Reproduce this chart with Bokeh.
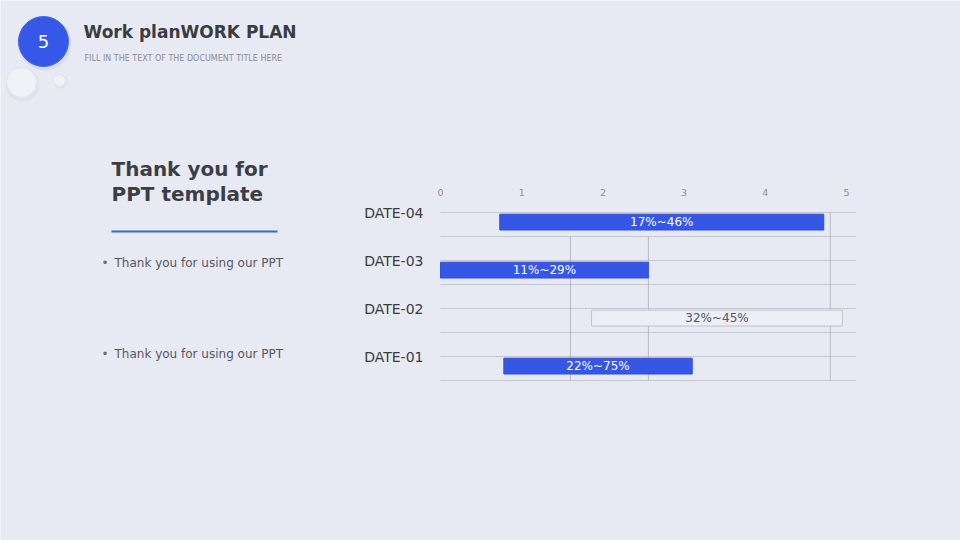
from bokeh.plotting import figure
from bokeh.models import Range1d, ColumnDataSource
from bokeh.core.properties import value
from bokeh.embed import file_html
from bokeh.resources import INLINE

BG = "#e8eaf3"
FONT = "DejaVu Sans"

# ---------------- data ----------------
categories = ["DATE-01", "DATE-02", "DATE-03", "DATE-04"]
bar_start = [0.78, 1.86, 0.00, 0.73]
bar_end = [3.10, 4.95, 2.56, 4.72]
bar_labels = ["22%~75%", "32%~45%", "11%~29%", "17%~46%"]
x_ticks = [0, 1, 2, 3, 4, 5]
x_tick_labels = ["0", "1", "2", "3", "4", "5"]
x_max = 5.12
guide_x = [1.60, 2.56, 4.80]
guide_y0 = [0.5, 0.5, 0.5]
guide_y1 = [3.5, 3.5, 4.0]

page_number = "5"
header_title = "Work planWORK PLAN"
header_sub = "FILL IN THE TEXT OF THE DOCUMENT TITLE HERE"
heading_lines = ["Thank you for", "PPT template"]
bullet_texts = ["Thank you for using our PPT", "Thank you for using our PPT"]

# styles (kept apart from data)
bar_fill = ["#3657e6", "#eceef5", "#3657e6", "#3657e6"]
bar_line = ["#2f4fdc", "#c2c4cc", "#2f4fdc", "#2f4fdc"]
label_color = ["#ffffff", "#55575e", "#ffffff", "#ffffff"]

# ---------------- page figure (pixel coordinates, y downwards) ----------------
W, H = 960, 540
p = figure(width=W, height=H, x_range=Range1d(0, W), y_range=Range1d(H, 0),
           x_axis_type=None, y_axis_type=None, min_border=0,
           output_backend="svg", toolbar_location=None)
p.background_fill_color = BG
p.border_fill_color = BG
p.outline_line_color = None
p.grid.visible = False

# chart scales placed on the page: value 0 at px 440, 81.2 px per unit;
# row 1 at px 356, 48 px per row (y upwards)
X0_PX, X_UNIT = 440.0, 81.2
Y1_PX, Y_UNIT = 356.0, 48.0
p.extra_x_ranges = {"chart": Range1d(-X0_PX / X_UNIT, (W - X0_PX) / X_UNIT)}
p.extra_y_ranges = {"chart": Range1d(1 - (H - Y1_PX) / Y_UNIT, 1 + Y1_PX / Y_UNIT)}
C = dict(x_range_name="chart", y_range_name="chart")

# ---------------- header decorations ----------------
p.circle(x=[22], y=[84], radius=17, fill_color="#d9dce8", fill_alpha=0.6, line_color=None)
p.circle(x=[21], y=[82], radius=15, fill_color="#f1f2f8", line_color="#e2e4ed")
p.circle(x=[60], y=[81], radius=7, fill_color="#d9dce8", fill_alpha=0.6, line_color=None)
p.circle(x=[59], y=[80], radius=6, fill_color="#f1f2f8", line_color="#e2e4ed")
p.circle(x=[44], y=[43], radius=27, fill_color="#d3d7e8", fill_alpha=0.7, line_color=None)
p.circle(x=[43], y=[41], radius=25, fill_color="#3558e8", line_color="#4465ee")
p.text(x=[43], y=[41], text=[page_number], text_font=value(FONT), text_font_size="18px",
       text_color="#ffffff", text_align="center", text_baseline="middle")

p.text(x=[83], y=[31], text=[header_title], text_font=value(FONT), text_font_style="bold",
       text_font_size="17px", text_color="#3b3c42", text_align="left", text_baseline="middle")
p.text(x=[84], y=[58], text=[header_sub], text_font=value(FONT), text_font_size="8px",
       text_color="#8a8c95", text_align="left", text_baseline="middle")

# ---------------- left text block ----------------
p.text(x=[111, 111], y=[168, 193], text=heading_lines, text_font=value(FONT),
       text_font_style="bold", text_font_size="20px", text_color="#3d3e44",
       text_align="left", text_baseline="middle")
p.segment(x0=[111], y0=[231], x1=[277], y1=[231], line_color="#2a6fc9", line_width=2.2)
p.text(x=[101, 101], y=[262, 353], text=["\u2022", "\u2022"], text_font=value(FONT),
       text_font_size="12px", text_color="#6a6c73", text_align="left", text_baseline="middle")
p.text(x=[114, 114], y=[262, 353], text=bullet_texts, text_font=value(FONT),
       text_font_size="12px", text_color="#55575e", text_align="left", text_baseline="middle")

# ---------------- chart ----------------
ypos = [i + 1 for i in range(len(categories))]
h_lines = [k for k in ypos] + [k - 0.5 for k in ypos]
p.segment(x0=[0] * len(h_lines), y0=h_lines, x1=[x_max] * len(h_lines), y1=h_lines,
          line_color="#c6c8d0", line_width=1, **C)
p.segment(x0=guide_x, y0=guide_y0, x1=guide_x, y1=guide_y1,
          line_color="#b7b9c1", line_width=1, **C)

# top axis tick labels
tick_row = max(ypos) + 0.42
p.text(x=x_ticks, y=[tick_row] * len(x_ticks), text=x_tick_labels, text_font=value(FONT),
       text_font_size="9.5px", text_color="#8d8f96", text_align="center",
       text_baseline="middle", **C)
# category labels
p.text(x=[-0.21] * len(categories), y=ypos, text=categories, text_font=value(FONT),
       text_font_size="14px", text_color="#3a3b40", text_align="right",
       text_baseline="middle", **C)

bar_off = 0.2
src = ColumnDataSource(dict(
    y=[k - bar_off for k in ypos], left=bar_start, right=bar_end,
    mid=[(a + b) / 2 for a, b in zip(bar_start, bar_end)], label=bar_labels,
    fill=bar_fill, line=bar_line, tc=label_color))
p.hbar(y="y", left="left", right="right", height=0.33, source=src,
       fill_color="fill", line_color="line", line_width=1, **C)
p.text(x="mid", y="y", text="label", source=src, text_font=value(FONT),
       text_font_size="12px", text_color="tc", text_align="center",
       text_baseline="middle", **C)

open("out.html", "w").write(file_html(p, INLINE))
